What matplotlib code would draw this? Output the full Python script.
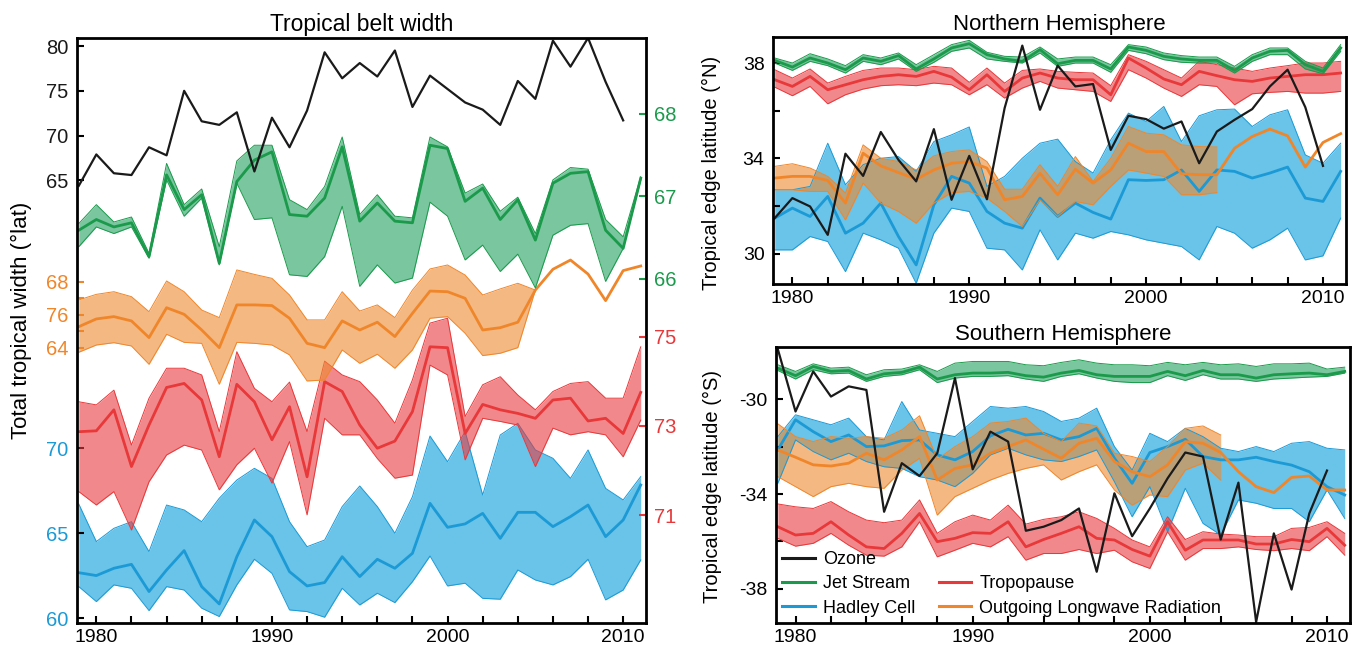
import numpy as np
import matplotlib
matplotlib.use('Agg')
from matplotlib import pyplot as plt
from matplotlib.lines import Line2D

plt.rcParams['font.family'] = ['Liberation Sans', 'DejaVu Sans']
nan = np.nan

years = list(range(1979, 2012))

# ---- left panel: total tropical width (each series on its own scale)
tot_ozone = [64.4, 67.9, 65.8, 65.6, 68.7, 67.8, 75.0, 71.6, 71.2, 72.6, 66.0, 72.0, 68.7, 72.8, 79.3, 76.4,
             78.1, 76.6, 79.5, 73.2, 76.7, 75.2, 73.7, 72.9, 71.2, 76.1, 74.1, 80.6, 77.7, 80.9, 76.0, 71.7, nan]
tot_jet_mid = [66.59, 66.72, 66.63, 66.68, 66.27, 67.26, 66.84, 67.02, 66.19, 67.18, 67.44, 67.54, 66.78, 66.76,
               66.98, 67.60, 66.70, 66.92, 66.70, 66.68, 67.62, 67.58, 66.94, 67.10, 66.72, 66.96, 66.47, 67.16,
               67.28, 67.30, 66.59, 66.37, 67.22]
tot_jet_hi = [66.67, 66.90, 66.69, 66.75, 66.31, 67.40, 66.90, 67.09, 66.39, 67.43, 67.62, 67.62, 66.96, 66.84,
              67.12, 67.72, 66.78, 67.02, 66.76, 66.74, 67.72, 67.60, 67.04, 67.15, 66.82, 66.99, 66.55, 67.20,
              67.35, 67.33, 66.72, 66.51, 67.24]
tot_jet_lo = [66.39, 66.63, 66.55, 66.63, 66.25, 67.20, 66.76, 66.98, 66.17, 67.16, 66.72, 66.74, 66.05, 66.03,
              66.27, 66.88, 65.91, 66.17, 65.95, 66.01, 66.93, 66.76, 66.23, 66.41, 66.09, 66.30, 65.89, 66.53,
              66.65, 66.67, 65.97, 66.37, 67.20]
tot_olr_mid = [65.29, 65.76, 65.90, 65.64, 64.63, 66.44, 66.04, 65.09, 64.02, 66.61, 66.61, 66.57, 65.80, 64.28,
               64.02, 65.64, 65.09, 65.56, 64.69, 66.10, 67.45, 67.41, 67.01, 65.09, 65.23, 65.56, 67.51, 68.77,
               69.33, 68.48, 66.87, 68.69, 68.97]
tot_olr_hi = [66.91, 67.25, 67.41, 67.11, 66.20, 68.06, 67.41, 66.30, 65.84, 68.73, 68.46, 68.22, 67.21, 65.70,
              65.70, 67.41, 66.24, 66.61, 65.84, 67.51, 68.79, 69.03, 68.42, 67.21, 67.58, 67.92, 67.51,
              nan, nan, nan, nan, nan, nan]
tot_olr_lo = [63.74, 64.18, 64.32, 64.12, 63.01, 64.83, 64.34, 64.28, 61.80, 64.34, 64.28, 64.18, 63.58, 62.00,
              62.06, 63.88, 63.07, 63.62, 62.77, 63.88, 65.80, 65.90, 64.89, 63.54, 63.68, 64.02, 67.51,
              nan, nan, nan, nan, nan, nan]
tot_trop_mid = [72.87, 72.89, 73.36, 72.09, 73.02, 73.86, 73.95, 73.58, 72.31, 73.93, 73.54, 72.69, 73.43, 71.86,
                73.99, 73.77, 73.02, 72.50, 72.66, 73.32, 74.77, 74.75, 72.83, 73.48, 73.36, 73.28, 73.17, 73.58,
                73.62, 73.11, 73.17, 72.83, 73.75]
tot_trop_hi = [73.54, 73.47, 73.80, 72.57, 73.62, 74.29, 74.29, 74.14, 72.87, 74.66, 73.84, 73.54, 73.98, 72.87,
               74.45, 74.14, 73.99, 73.58, 73.06, 74.03, 75.30, 75.41, 73.21, 73.92, 74.10, 73.69, 73.36, 73.77,
               73.95, 73.99, 73.62, 73.62, 74.77]
tot_trop_lo = [71.53, 71.23, 71.53, 70.67, 71.75, 72.35, 72.57, 72.46, 71.57, 72.13, 72.50, 71.72, 72.65, 71.01,
               73.17, 72.80, 72.80, 72.27, 71.83, 71.90, 74.36, 74.14, 72.24, 73.17, 73.10, 73.02, 72.09, 72.95,
               72.80, 72.87, 72.80, 72.31, 73.13]
tot_had_mid = [62.68, 62.51, 62.94, 63.17, 61.57, 62.84, 63.98, 61.86, 60.84, 63.62, 65.78, 64.80, 62.74, 61.90,
               62.10, 63.62, 62.45, 63.47, 62.94, 63.82, 66.76, 65.35, 65.55, 66.17, 64.70, 66.23, 66.23, 65.39,
               65.98, 66.66, 64.80, 65.78, 67.84]
tot_had_hi = [66.72, 64.51, 65.29, 65.68, 63.92, 66.66, 66.37, 65.68, 67.06, 68.13, 68.82, 68.23, 65.68, 64.21,
              64.60, 66.57, 67.78, 66.57, 65.00, 67.15, 70.72, 69.21, 70.98, 67.25, 70.78, 71.47, 69.90, 69.41,
              68.23, 69.90, 67.64, 66.96, 68.33]
tot_had_lo = [61.86, 60.98, 61.96, 61.76, 60.45, 61.86, 61.66, 60.59, 60.10, 61.96, 63.47, 62.64, 60.49, 60.39,
              60.06, 61.76, 60.78, 61.47, 60.92, 62.15, 63.66, 61.90, 62.06, 61.17, 61.12, 62.84, 62.25, 61.96,
              62.45, 63.47, 61.08, 61.66, 63.43]

# ---- Northern Hemisphere edge latitude
nh_ozone = [31.50, 32.34, 31.99, 30.80, 34.20, 33.27, 35.11, 33.94, 33.04, 35.23, 32.27, 34.11, 32.29, 36.11,
            38.73, 36.04, 37.89, 37.02, 37.12, 34.36, 35.79, 35.65, 35.25, 35.55, 33.80, 35.13, 35.62, 36.07,
            37.02, 37.72, 36.15, 33.69, nan]
nh_jet_mid = [38.11, 37.83, 38.21, 38.00, 37.72, 38.21, 38.07, 38.31, 37.75, 38.17, 38.63, 38.81, 38.35, 38.17,
              38.07, 38.56, 37.97, 38.11, 38.11, 37.75, 38.67, 38.53, 38.28, 38.17, 38.11, 38.11, 37.69, 38.21,
              38.49, 38.53, 37.93, 37.65, 38.63]
nh_jet_hi = [38.21, 38.00, 38.39, 38.17, 37.89, 38.35, 38.21, 38.42, 37.93, 38.35, 38.77, 38.95, 38.45, 38.28,
             38.25, 38.67, 38.17, 38.25, 38.25, 37.93, 38.77, 38.67, 38.42, 38.31, 38.25, 38.25, 37.86, 38.35,
             38.63, 38.63, 38.07, 37.79, 38.77]
nh_jet_lo = [38.00, 37.69, 38.07, 37.89, 37.58, 38.07, 37.93, 38.17, 37.65, 38.03, 38.49, 38.63, 38.17, 38.07,
             38.00, 38.42, 37.86, 38.00, 38.00, 37.61, 38.53, 38.39, 38.14, 38.03, 38.00, 38.00, 37.58, 38.07,
             38.35, 38.35, 37.75, 37.55, 38.49]
nh_trop_mid = [37.30, 37.02, 37.44, 36.88, 37.09, 37.30, 37.44, 37.51, 37.44, 37.65, 37.41, 36.88, 37.51, 36.81,
               37.37, 37.58, 37.37, 37.30, 37.30, 36.67, 38.21, 37.79, 37.33, 37.09, 37.65, 37.47, 37.30, 37.23,
               37.37, 37.44, 37.51, 37.51, 37.58]
nh_trop_hi = [37.72, 37.37, 37.75, 37.16, 37.44, 37.69, 37.79, 37.79, 37.72, 37.86, 37.79, 37.19, 37.79, 37.16,
              37.69, 37.75, 37.65, 37.61, 37.58, 37.05, 38.35, 38.07, 37.72, 37.37, 38.07, 37.93, 37.79, 37.65,
              37.79, 37.89, 38.00, 38.00, 38.07]
nh_trop_lo = [36.99, 36.63, 37.02, 36.29, 36.67, 36.91, 37.05, 37.09, 37.05, 37.16, 37.09, 36.67, 37.09, 36.53,
              36.95, 37.23, 36.95, 36.88, 36.81, 36.39, 37.72, 37.37, 36.95, 36.60, 37.09, 37.02, 36.25, 36.71,
              36.77, 36.81, 36.74, 36.74, 36.81]
nh_olr_mid = [33.18, 33.25, 33.25, 33.08, 32.13, 34.22, 33.69, 33.41, 33.13, 33.52, 33.80, 33.87, 33.60, 32.27,
              32.41, 33.38, 32.48, 33.55, 32.97, 33.52, 34.64, 34.29, 34.29, 33.36, 33.32, 33.32, 34.43, 34.92,
              35.23, 34.95, 33.64, 34.67, 35.04]
nh_olr_hi = [33.67, 33.78, 33.60, 33.25, 32.55, 34.57, 34.01, 33.87, 33.52, 34.11, 34.29, 34.36, 33.87, 32.71,
             32.71, 33.74, 32.83, 34.08, 33.04, 34.01, 35.34, 35.06, 34.99, 34.57, 34.50, 34.48,
             nan, nan, nan, nan, nan, nan, nan]
nh_olr_lo = [32.69, 32.69, 32.62, 32.62, 31.43, 32.97, 32.13, 31.78, 31.29, 32.13, 32.57, 32.62, 32.34, 31.78,
             31.15, 32.27, 31.57, 32.20, 32.06, 32.83, 33.52, 33.39, 33.25, 32.48, 32.48, 32.57,
             nan, nan, nan, nan, nan, nan, nan]
nh_had_mid = [31.50, 31.92, 31.57, 32.41, 30.87, 31.29, 32.13, 30.73, 29.54, 32.06, 33.25, 32.97, 31.78, 31.29,
              31.08, 32.34, 31.57, 32.13, 31.74, 31.46, 33.11, 33.08, 33.11, 33.52, 32.62, 33.52, 33.46, 33.18,
              33.39, 33.64, 32.34, 32.20, 33.46]
nh_had_hi = [32.69, 32.69, 32.83, 34.64, 32.90, 33.74, 34.01, 34.08, 33.46, 34.71, 34.99, 35.32, 32.83, 33.25,
             34.01, 34.64, 34.81, 33.87, 33.39, 34.78, 35.90, 35.55, 36.18, 34.71, 35.79, 36.04, 36.07, 35.34,
             35.83, 36.04, 34.15, 33.80, 34.64]
nh_had_lo = [30.17, 30.17, 30.73, 30.52, 29.26, 30.87, 30.59, 30.24, 28.77, 30.87, 31.92, 31.78, 30.24, 30.17,
             29.33, 31.01, 29.75, 30.87, 30.66, 30.94, 30.80, 30.59, 30.45, 30.31, 29.75, 31.15, 30.87, 30.24,
             30.59, 31.08, 29.75, 29.92, 31.50]

# ---- Southern Hemisphere edge latitude
sh_ozone = [-27.89, -30.52, -28.83, -29.89, -29.46, -29.61, -34.75, -32.70, -33.24, -32.28, -29.11, -32.96,
            -31.37, -31.79, -35.55, -35.38, -35.10, -34.61, -37.28, -33.97, -35.78, -34.61, -33.34, -32.25,
            -32.42, -35.92, -33.52, -39.39, -35.66, -38.03, -34.82, -33.01, nan]
sh_jet_mid = [-28.69, -29.01, -28.62, -28.83, -28.79, -29.15, -28.93, -28.87, -28.65, -29.15, -28.97, -28.90,
              -28.90, -28.87, -29.01, -29.07, -28.90, -28.79, -28.97, -29.04, -29.04, -29.04, -28.83, -29.01,
              -28.79, -28.97, -28.97, -29.11, -28.97, -28.93, -28.90, -28.97, -28.83]
sh_jet_hi = [-28.55, -28.83, -28.51, -28.69, -28.65, -28.97, -28.76, -28.73, -28.55, -28.83, -28.48, -28.41,
             -28.41, -28.41, -28.55, -28.59, -28.45, -28.34, -28.48, -28.55, -28.55, -28.59, -28.45, -28.55,
             -28.45, -28.55, -28.51, -28.62, -28.51, -28.51, -28.48, -28.73, -28.65]
sh_jet_lo = [-28.79, -29.15, -28.76, -28.93, -28.90, -29.25, -29.04, -28.97, -28.76, -29.30, -29.11, -29.04,
             -29.04, -29.01, -29.15, -29.25, -29.04, -28.93, -29.11, -29.25, -29.30, -29.30, -29.01, -29.21,
             -28.97, -29.15, -29.15, -29.25, -29.15, -29.11, -29.07, -29.04, -28.90]
sh_had_mid = [-32.14, -30.87, -31.37, -31.79, -31.51, -32.00, -31.97, -31.75, -31.72, -32.35, -32.56, -32.21,
              -31.55, -31.27, -31.51, -31.44, -31.72, -31.58, -31.23, -32.49, -33.55, -32.25, -32.00, -31.69,
              -32.42, -32.56, -32.56, -32.45, -32.63, -32.78, -33.06, -33.69, -34.04]
sh_had_hi = [-31.58, -30.66, -30.87, -31.08, -30.80, -31.58, -31.72, -30.10, -31.30, -31.44, -31.58, -30.94,
             -30.31, -30.38, -30.31, -30.52, -30.94, -30.80, -30.38, -32.00, -32.99, -31.44, -31.79, -31.23,
             -31.58, -32.07, -32.21, -32.00, -32.21, -31.86, -31.79, -32.07, -32.14]
sh_had_lo = [-33.55, -31.72, -32.21, -32.56, -32.28, -32.63, -32.85, -32.92, -33.27, -33.41, -33.69, -33.13,
             -32.35, -32.07, -32.35, -32.56, -32.63, -32.42, -32.14, -33.48, -34.96, -33.69, -35.59, -33.76,
             -35.24, -35.73, -34.25, -34.39, -34.61, -34.61, -35.17, -33.83, -35.03]
sh_olr_mid = [-32.14, -32.45, -32.77, -32.82, -32.70, -32.28, -32.56, -32.14, -31.58, -33.41, -32.92, -32.77,
              -32.28, -32.00, -31.72, -32.11, -32.49, -31.86, -31.65, -32.63, -33.06, -33.27, -32.77, -31.79,
              -31.86, -32.25, -33.06, -33.69, -33.94, -33.30, -33.24, -33.83, -33.83]
sh_olr_hi = [-31.04, -31.58, -31.79, -31.58, -31.65, -31.58, -31.65, -31.30, -30.70, -32.54, -32.00, -31.58,
             -31.01, -30.94, -30.80, -31.44, -31.79, -31.01, -31.13, -32.28, -32.42, -32.63, -32.00, -31.23,
             -31.13, -31.51, nan, nan, nan, nan, nan, nan, nan]
sh_olr_lo = [-33.27, -33.69, -34.11, -33.69, -33.55, -33.69, -33.76, -32.99, -32.49, -34.89, -34.11, -33.76,
             -33.41, -33.13, -32.92, -32.77, -33.41, -33.06, -32.77, -33.83, -34.47, -34.04, -34.11, -32.99,
             -32.70, -33.41, nan, nan, nan, nan, nan, nan, nan]
sh_trop_mid = [-35.38, -35.73, -35.66, -35.17, -35.73, -36.23, -36.30, -35.66, -34.82, -36.01, -35.87, -35.63,
               -35.66, -35.17, -36.23, -35.92, -35.66, -35.38, -35.87, -35.94, -36.34, -36.62, -35.17, -36.37,
               -35.94, -35.94, -35.94, -36.11, -36.11, -35.92, -36.01, -35.45, -36.16]
sh_trop_hi = [-34.42, -34.54, -34.61, -34.32, -34.75, -35.10, -35.21, -35.10, -34.25, -35.66, -35.17, -34.89,
              -35.10, -34.47, -35.27, -35.07, -34.96, -34.75, -35.03, -35.45, -35.94, -36.23, -34.96, -35.92,
              -35.59, -35.69, -35.73, -35.80, -35.80, -35.45, -35.41, -35.17, -35.66]
sh_trop_lo = [-35.87, -36.20, -36.08, -35.66, -36.16, -36.58, -36.62, -36.23, -35.17, -36.65, -36.37, -36.08,
              -36.23, -35.80, -36.79, -36.51, -36.51, -36.34, -36.51, -36.37, -36.86, -37.14, -35.59, -36.79,
              -36.30, -36.30, -36.23, -36.34, -36.39, -36.30, -36.39, -35.80, -36.58]

# colours: (line, fill, fill alpha)
C_JET = ('#1a9a4a', '#20a060', 0.6)
C_OLR = ('#f0862a', '#ee8a30', 0.6)
C_TROP = ('#e8383a', '#e83a40', 0.6)
C_HAD = ('#1b9ad6', '#1aa4dc', 0.65)
BLACK = '#1a1a1a'

FS = 14
XLIM = (1978.9, 2011.3)
xt = list(range(1980, 2011, 2))
xtl = [str(y) if y % 10 == 0 else '' for y in xt]


def band(ax, lo, hi, mid, col):
    line, fill, alpha = col
    ax.fill_between(years, np.array(lo, float), np.array(hi, float), color=fill, alpha=alpha, lw=0)
    ax.plot(years, lo, color=line, lw=0.7)
    ax.plot(years, hi, color=line, lw=0.7)
    ax.plot(years, mid, color=line, lw=2)


def frame_style(ax):
    for s in ax.spines.values():
        s.set_linewidth(2)
    ax.set_xlim(*XLIM)
    ax.set_xticks(xt)
    ax.set_xticklabels(xtl)
    ax.tick_params(axis='x', direction='in', length=5, width=1.5, labelsize=FS, pad=4)
    ax.tick_params(axis='y', direction='in', length=5, width=1.5, labelsize=FS, pad=6)


fig = plt.figure(figsize=(13.56, 6.48), dpi=100)

# ---------------- left panel ----------------
L_RECT = [0.0568, 0.0386, 0.4196, 0.9028]
frame = fig.add_axes(L_RECT)
frame.patch.set_visible(False)
frame.set_zorder(10)
frame_style(frame)
frame.set_yticks([])
frame.set_title('Tropical belt width', fontsize=16.5, pad=5)


def layer(ylim, side, ticks, labels, color, tickcolor):
    a = fig.add_axes(L_RECT, sharex=frame)
    a.patch.set_visible(False)
    for s in a.spines.values():
        s.set_visible(False)
    a.tick_params(axis='x', which='both', bottom=False, labelbottom=False)
    a.set_ylim(*ylim)
    if side == 'right':
        a.yaxis.tick_right()
    else:
        a.yaxis.tick_left()
    a.set_yticks(ticks)
    a.set_yticklabels(labels)
    a.tick_params(axis='y', direction='in', length=5, width=1.5, labelsize=14.5, pad=6,
                  colors=tickcolor, labelcolor=color)
    return a


ax_had = layer((59.72, 94.14), 'left', [60, 65, 70], ['60', '65', '70'], C_HAD[0], 'k')
band(ax_had, tot_had_lo, tot_had_hi, tot_had_mid, C_HAD)

ax_trop = layer((68.59, 81.68), 'right', [71, 73, 75], ['71', '73', '75'], C_TROP[0], C_TROP[0])
band(ax_trop, tot_trop_lo, tot_trop_hi, tot_trop_mid, C_TROP)

ax_olr = layer((47.33, 82.79), 'left', [64, 65, 66, 67, 68], ['64', '', '76', '', '68'], C_OLR[0], C_OLR[0])
band(ax_olr, tot_olr_lo, tot_olr_hi, tot_olr_mid, C_OLR)

ax_jet = layer((61.83, 68.92), 'right', [66, 67, 68], ['66', '67', '68'], C_JET[0], C_JET[0])
band(ax_jet, tot_jet_lo, tot_jet_hi, tot_jet_mid, C_JET)

ax_oz = layer((15.6, 80.9), 'left', [65, 70, 75, 80], ['65', '70', '75', '80'], BLACK, 'k')
ax_oz.plot(years, tot_ozone, color=BLACK, lw=1.6)

fig.text(21 / 1356, 0.506, 'Total tropical width (°lat)', rotation=90, ha='center', va='center', fontsize=16)

# ---------------- right panels ----------------
ax_nh = fig.add_axes([0.5700, 0.5617, 0.4226, 0.3812])
band(ax_nh, nh_had_lo, nh_had_hi, nh_had_mid, C_HAD)
band(ax_nh, nh_olr_lo, nh_olr_hi, nh_olr_mid, C_OLR)
band(ax_nh, nh_trop_lo, nh_trop_hi, nh_trop_mid, C_TROP)
band(ax_nh, nh_jet_lo, nh_jet_hi, nh_jet_mid, C_JET)
ax_nh.plot(years, nh_ozone, color=BLACK, lw=1.6)
frame_style(ax_nh)
ax_nh.set_ylim(28.74, 39.09)
ax_nh.set_yticks([30, 32, 34, 36, 38])
ax_nh.set_yticklabels(['30', '', '34', '', '38'])
ax_nh.set_title('Northern Hemisphere', fontsize=16, pad=5)
ax_nh.set_ylabel('Tropical edge latitude (°N)', fontsize=14.5)
ax_nh.yaxis.set_label_coords(-0.09, 0.45)

ax_sh = fig.add_axes([0.5723, 0.0386, 0.4233, 0.4259])
band(ax_sh, sh_had_lo, sh_had_hi, sh_had_mid, C_HAD)
band(ax_sh, sh_olr_lo, sh_olr_hi, sh_olr_mid, C_OLR)
band(ax_sh, sh_trop_lo, sh_trop_hi, sh_trop_mid, C_TROP)
band(ax_sh, sh_jet_lo, sh_jet_hi, sh_jet_mid, C_JET)
ax_sh.plot(years, sh_ozone, color=BLACK, lw=1.6)
frame_style(ax_sh)
ax_sh.set_ylim(-39.44, -27.80)
ax_sh.set_yticks([-38, -36, -34, -32, -30])
ax_sh.set_yticklabels(['-38', '', '-34', '', '-30'])
ax_sh.set_title('Southern Hemisphere', fontsize=16, pad=5)
ax_sh.set_ylabel('Tropical edge latitude (°S)', fontsize=14.5)
ax_sh.yaxis.set_label_coords(-0.095, 0.496)

handles = [Line2D([], [], color=BLACK, lw=2.2),
           Line2D([], [], color=C_JET[0], lw=2.2),
           Line2D([], [], color=C_HAD[0], lw=2.2),
           Line2D([], [], color='none', lw=0),
           Line2D([], [], color=C_TROP[0], lw=2.2),
           Line2D([], [], color=C_OLR[0], lw=2.2)]
labels = ['Ozone', 'Jet Stream', 'Hadley Cell', '', 'Tropopause', 'Outgoing Longwave Radiation']
ax_sh.legend(handles, labels, ncol=2, loc='lower left', frameon=False, fontsize=13,
             handlelength=1.8, handletextpad=0.45, labelspacing=0.4, columnspacing=1.3,
             borderpad=0.2, borderaxespad=0.15)

fig.savefig('out.png', dpi=100, facecolor='white')
